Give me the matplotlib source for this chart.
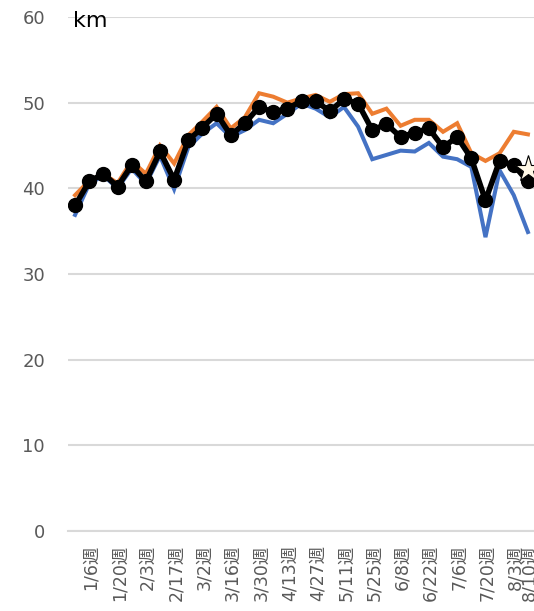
import matplotlib
matplotlib.use("Agg")
import matplotlib.pyplot as plt
import matplotlib.transforms as mtransforms

plt.rcParams['font.family'] = ['DejaVu Sans', 'Noto Sans CJK JP']

weeks = ["1/6週", "1/13週", "1/20週", "1/27週", "2/3週", "2/10週", "2/17週", "2/24週",
         "3/2週", "3/9週", "3/16週", "3/23週", "3/30週", "4/6週", "4/13週", "4/20週",
         "4/27週", "5/4週", "5/11週", "5/18週", "5/25週", "6/1週", "6/8週", "6/15週",
         "6/22週", "6/29週", "7/6週", "7/13週", "7/20週", "7/27週", "8/3週", "8/10週", "8/17週"]

orange = [39.2, 40.9, 41.7, 40.6, 43.2, 41.7, 45.0, 42.9, 46.2, 47.8, 49.5, 47.0, 48.3, 51.1,
          50.7, 50.0, 50.5, 50.9, 50.1, 51.0, 51.1, 48.7, 49.3, 47.3, 48.0, 48.0, 46.6, 47.6,
          44.1, 43.2, 44.1, 46.6, 46.3]
blue = [36.9, 40.5, 41.5, 40.0, 42.3, 40.5, 43.8, 39.9, 44.8, 46.4, 47.6, 46.0, 46.8, 48.0,
        47.6, 48.7, 49.9, 49.3, 48.3, 49.5, 47.2, 43.4, 43.9, 44.4, 44.3, 45.3, 43.7, 43.4,
        42.5, 34.3, 42.1, 39.2, 34.9]
black = [38.0, 40.8, 41.7, 40.2, 42.7, 40.8, 44.3, 41.0, 45.6, 47.1, 48.7, 46.2, 47.6, 49.5,
         48.9, 49.3, 50.2, 50.2, 49.0, 50.4, 49.9, 46.8, 47.5, 46.0, 46.5, 47.0, 44.8, 46.0,
         43.5, 38.6, 43.2, 42.7, 40.8]
star_week = ["8/17週"]
star_value = [42.3]

label_idx = list(range(0, 31, 2)) + [31]
yticks = [0, 10, 20, 30, 40, 50, 60]

W, H = 534, 611
fig = plt.figure(figsize=(W / 100, H / 100), dpi=100)
ax = fig.add_axes([68 / W, 1 - 531 / H, 467 / W, 514 / H])

x = list(range(len(weeks)))
ax.plot(x, orange, color='#ED7D31', lw=2.9, solid_joinstyle='miter', zorder=3)
ax.plot(x, blue, color='#4472C4', lw=2.9, solid_joinstyle='miter', zorder=3)
ax.plot(x, black, color='black', lw=4.0, marker='o', markersize=10, zorder=4)
sx = [weeks.index(w) for w in star_week]
ax.plot(sx, star_value, linestyle='none', marker='*', markersize=20,
        markerfacecolor='#FFF8E6', markeredgecolor='black', markeredgewidth=0.8, zorder=5)

ax.set_xlim(-0.5, len(weeks) - 0.5)
ax.set_ylim(0, 60)
ax.set_yticks(yticks)
ax.yaxis.grid(True, color='#D9D9D9', lw=1.5)
ax.set_axisbelow(True)
for s in ['top', 'right', 'left']:
    ax.spines[s].set_visible(False)
ax.spines['bottom'].set_color('#D9D9D9')
ax.spines['bottom'].set_linewidth(1.5)
ax.tick_params(axis='y', length=0, pad=16.5, labelsize=13, labelcolor='#595959')
ax.tick_params(axis='x', length=0, pad=10, labelsize=12.5, labelcolor='#595959')
ax.set_xticks(label_idx)
ax.set_xticklabels([weeks[i] for i in label_idx], rotation=90, ha='center', va='top')
offset = mtransforms.ScaledTranslation(16 / 100, 0, fig.dpi_scale_trans)
for lab in ax.get_xticklabels():
    lab.set_transform(lab.get_transform() + offset)

fig.text(73 / W, 1 - 21 / H, "km", fontsize=16, color='black', ha='left', va='center')

fig.savefig("out.png", dpi=100)
